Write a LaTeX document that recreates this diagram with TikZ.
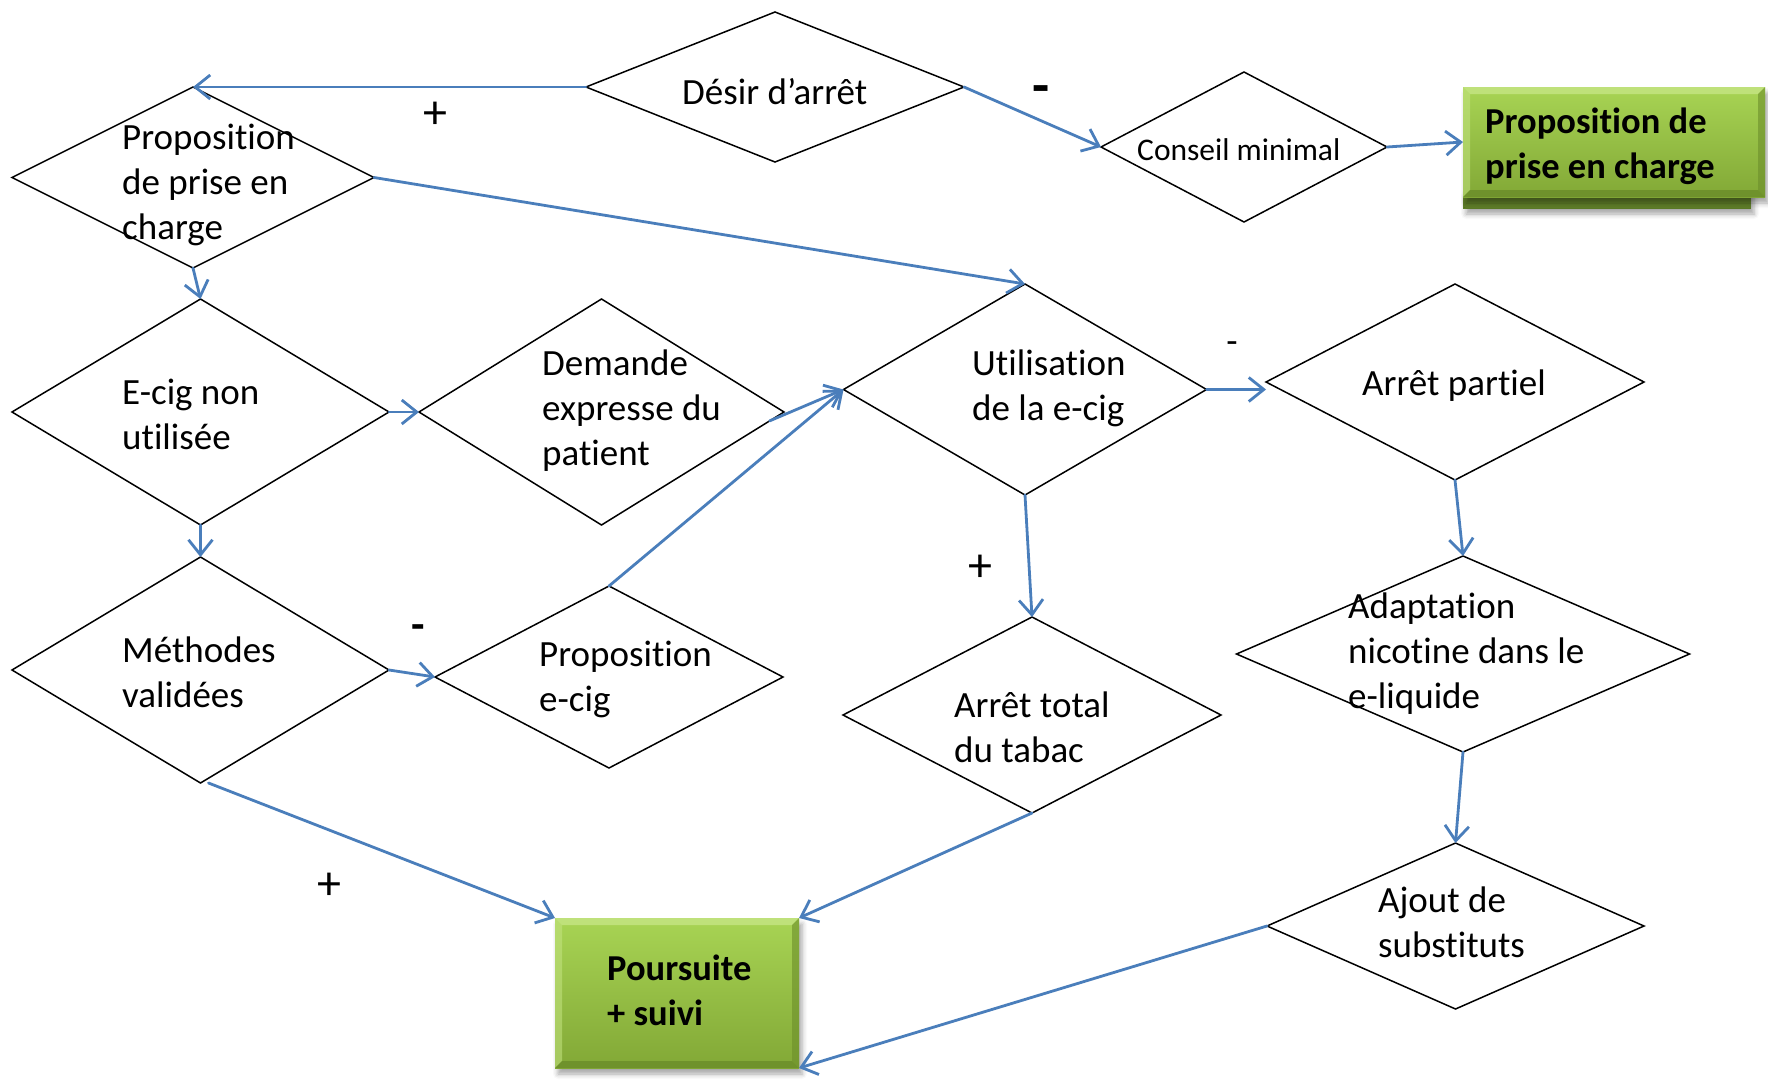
\documentclass[tikz,border=0pt]{standalone}
\usepackage{fontspec}
\setmainfont{Carlito}[Ligatures=NoCommon]
\usetikzlibrary{shapes.geometric,arrows.meta,shadows.blur,calc}

\definecolor{link}{HTML}{4A7EBB}
\definecolor{gtop}{HTML}{A8D454}
\definecolor{gbot}{HTML}{82A836}
\definecolor{glight}{HTML}{C4E482}
\definecolor{gdark}{HTML}{6C8E2B}
\definecolor{gedge}{HTML}{5F7E29}

% bevelled edges of the green boxes
\newcommand{\gbevel}{%
  \coordinate (bNW) at (path picture bounding box.north west);
  \coordinate (bNE) at (path picture bounding box.north east);
  \coordinate (bSW) at (path picture bounding box.south west);
  \coordinate (bSE) at (path picture bounding box.south east);
  \fill[glight,opacity=.85] (bNW) -- (bNE) -- ([shift={(-7,7)}]bNE) -- ([shift={(7,7)}]bNW) -- cycle;
  \fill[glight,opacity=.55] (bNW) -- ([shift={(7,7)}]bNW) -- ([shift={(7,-7)}]bSW) -- (bSW) -- cycle;
  \fill[gdark,opacity=.6] (bNE) -- (bSE) -- ([shift={(-7,-7)}]bSE) -- ([shift={(-7,7)}]bNE) -- cycle;
  \fill[gdark,opacity=.85] (bSW) -- ([shift={(7,-7)}]bSW) -- ([shift={(-7,-7)}]bSE) -- (bSE) -- cycle;
}

\tikzset{
  dia/.style={diamond, draw=black, line width=1.5pt, fill=white, inner sep=0pt, outer sep=0pt},
  conn/.style={draw=link, line width=2.8pt, line cap=round,
    -{Straight Barb[length=15pt,width=24pt]}},
  txt/.style={anchor=west, align=left, inner sep=0pt, font=\fontsize{37pt}{45pt}\selectfont},
  boldtxt/.style={anchor=west, align=left, inner sep=0pt, font=\fontsize{36.5pt}{45pt}\selectfont\bfseries},
  sign/.style={inner sep=0pt, font=\fontsize{48pt}{54pt}\selectfont},
  gbox/.style={rectangle, inner sep=0pt, outer sep=0pt, top color=gtop, bottom color=gbot,
    blur shadow={shadow xshift=3pt, shadow yshift=-6pt, shadow blur radius=5pt, shadow opacity=35},
    path picture={\gbevel}},
}

\begin{document}
\begin{tikzpicture}[x=1pt,y=-1pt]
\useasboundingbox (0,0) rectangle (1768,1081);

% decision diamonds
\node[dia, minimum width=378pt, minimum height=150pt] (desir)    at (775,87) {};
\node[dia, minimum width=362pt, minimum height=181pt] (prop1)    at (193,177.5) {};
\node[dia, minimum width=286pt, minimum height=150pt] (conseil)  at (1244,147) {};
\node[dia, minimum width=377pt, minimum height=226pt] (ecig)     at (200.5,412) {};
\node[dia, minimum width=365pt, minimum height=226pt] (demande)  at (601.5,412) {};
\node[dia, minimum width=363pt, minimum height=211pt] (util)     at (1025,389.5) {};
\node[dia, minimum width=378pt, minimum height=196pt] (partiel)  at (1455,382) {};
\node[dia, minimum width=377pt, minimum height=226pt] (methodes) at (200.5,670) {};
\node[dia, minimum width=348pt, minimum height=182pt] (prope)    at (609,677) {};
\node[dia, minimum width=378pt, minimum height=196pt] (total)    at (1032,715) {};
\node[dia, minimum width=453pt, minimum height=196pt] (adapt)    at (1463,654) {};
\node[dia, minimum width=377pt, minimum height=166pt] (ajout)    at (1455.5,926) {};

% green result boxes
\path[fill=gedge, blur shadow={shadow xshift=3pt, shadow yshift=-5pt, shadow blur radius=5pt, shadow opacity=35}]
  (1463,190) rectangle (1751,209);
\node[gbox, anchor=north west, minimum width=302pt, minimum height=110pt] (pbox) at (1463,87) {};
\node[gbox, anchor=north west, minimum width=244pt, minimum height=150pt] (suivi) at (555,918) {};

% texts
\node[txt] (t-desir) at (682,92) {D\'esir d’arr\^et};
\node[txt] (t-prop1) at (122,185) {\strut Proposition\\\strut de prise en\\\strut charge};
\node[txt, font=\fontsize{31.5pt}{38pt}\selectfont] (t-conseil) at (1137,150) {Conseil minimal};
\node[boldtxt] (t-pbox) at (1485,147) {\strut Proposition de\\\strut prise en charge};
\node[txt] (t-ecig) at (122,418) {\strut E-cig non\\\strut utilis\'ee};
\node[txt] (t-demande) at (542,411) {\strut Demande\\\strut expresse du\\\strut patient};
\node[txt] (t-util) at (972,389) {\strut Utilisation\\\strut de la e-cig};
\node[txt] (t-partiel) at (1362,386) {Arr\^et partiel};
\node[txt] (t-methodes) at (122,676) {\strut M\'ethodes\\\strut valid\'ees};
\node[txt] (t-prope) at (539,680) {\strut Proposition\\\strut e-cig};
\node[txt] (t-total) at (954,731) {\strut Arr\^et total\\\strut du tabac};
\node[txt] (t-adapt) at (1348,654) {\strut Adaptation\\\strut nicotine dans le\\\strut e-liquide};
\node[txt] (t-ajout) at (1378,926) {\strut Ajout de\\\strut substituts};
\node[boldtxt] (t-suivi) at (607,994) {\strut Poursuite\\\strut + suivi};

% connectors
\draw[conn] (desir.west) -- (prop1.north);
\draw[conn] (desir.east) -- (conseil.west);
\draw[conn] (conseil.east) -- (pbox.west);
\draw[conn] (prop1.east) -- (util.north);
\draw[conn] (prop1.south) -- (ecig.north);
\draw[conn] (ecig.east) -- (demande.west);
\draw[conn] (ecig.south) -- (methodes.north);
\draw[conn] (demande.-3) -- (util.west);
\draw[conn] (prope.north) -- (util.west);
\draw[conn] (methodes.east) -- (prope.west);
\draw[conn] ([xshift=8pt]methodes.south) -- (suivi.north west);
\draw[conn] (util.east) -- (util.east -| partiel.west);
\draw[conn] (util.south) -- (total.north);
\draw[conn] (total.south) -- (suivi.north east);
\draw[conn] (partiel.south) -- (adapt.north);
\draw[conn] (adapt.south) -- (ajout.north);
\draw[conn] (ajout.west) -- (suivi.south east);

% branch signs
\node[sign] (s1) at (435,115) {+};
\node[sign, font=\fontsize{56pt}{60pt}\selectfont\bfseries] (s2) at (1041,95) {-};
\node[sign, font=\fontsize{37pt}{45pt}\selectfont] (s3) at (1232,348) {-};
\node[sign, font=\fontsize{44pt}{50pt}\selectfont\bfseries] (s4) at (418,632) {-};
\node[sign] (s5) at (980,568) {+};
\node[sign] (s6) at (329,886) {+};
\end{tikzpicture}
\end{document}
